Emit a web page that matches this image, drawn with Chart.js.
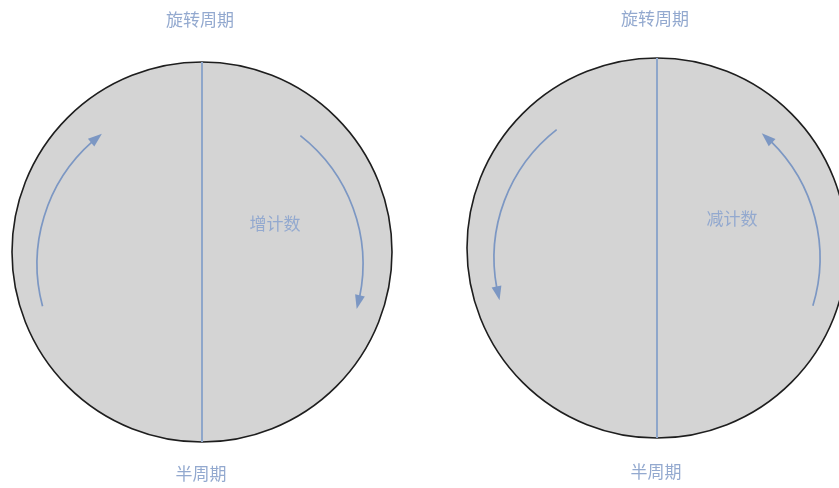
<!DOCTYPE html>
<html lang="zh">
<head>
  <meta charset="UTF-8">
  <title>旋转周期</title>
  <script src="https://cdn.jsdelivr.net/npm/chart.js"></script>
  <style>
    body { margin: 0; background: #fff; }
    #wrap { position: relative; width: 839px; height: 488px; }
  </style>
</head>
<body>
  <div id="wrap"><canvas id="diagram"></canvas></div>

  <script>
    // circles (center, radius in chart units = px)
    const circleX = [202, 657];
    const circleY = [252, 248];
    const circleR = [190, 190];

    // vertical dividers: x, top y, bottom y
    const dividerX = [202, 657];
    const dividerTop = [62, 58];
    const dividerBottom = [442, 438];

    // curved arrows: arc center, radius, start / end angle (deg, canvas y-down)
    const arrowCx = [200, 200, 657, 657];
    const arrowCy = [264, 264, 258, 258];
    const arrowR = [163, 163, 163, 163];
    const arrowFrom = [165, -52, 232, 17];
    const arrowTo = [233, 16, 165, -50];

    // text labels
    const labelText = ['旋转周期', '旋转周期', '半周期', '半周期', '增计数', '减计数'];
    const labelX = [200, 655, 201, 656, 275, 732];
    const labelY = [20, 19, 474, 472, 224, 219];

    const lineColor = '#8ea6ca';
    const arrowColor = '#7c97c3';
    const textColor = '#93a9cf';

    const dividerSets = dividerX.map((x, i) => ({
      type: 'line',
      data: [{ x: x, y: dividerTop[i] }, { x: x, y: dividerBottom[i] }],
      borderColor: lineColor,
      borderWidth: 2,
      pointRadius: 0,
      order: 0
    }));

    const shapes = {
      id: 'shapes',
      beforeDatasetsDraw(chart) {
        const ctx = chart.ctx;
        const xs = chart.scales.x, ys = chart.scales.y;
        const px = (v) => xs.getPixelForValue(v);
        const py = (v) => ys.getPixelForValue(v);
        const pr = (r) => Math.abs(xs.getPixelForValue(r) - xs.getPixelForValue(0));
        ctx.save();
        circleX.forEach((cx, i) => {
          ctx.beginPath();
          ctx.arc(px(cx), py(circleY[i]), pr(circleR[i]), 0, Math.PI * 2);
          ctx.fillStyle = '#d4d4d4';
          ctx.fill();
          ctx.lineWidth = 1.6;
          ctx.strokeStyle = '#1e1e1e';
          ctx.stroke();
        });
        ctx.restore();
      },
      afterDatasetsDraw(chart) {
        const ctx = chart.ctx;
        const xs = chart.scales.x, ys = chart.scales.y;
        const px = (v) => xs.getPixelForValue(v);
        const py = (v) => ys.getPixelForValue(v);
        const pr = (r) => Math.abs(xs.getPixelForValue(r) - xs.getPixelForValue(0));
        const rad = (d) => d * Math.PI / 180;
        ctx.save();
        arrowCx.forEach((acx, i) => {
          const cx = px(acx), cy = py(arrowCy[i]), r = pr(arrowR[i]);
          const a0 = rad(arrowFrom[i]), a1 = rad(arrowTo[i]);
          const ccw = a1 < a0;
          const sign = ccw ? -1 : 1;
          const headLen = 14, headW = 5;
          const aLine = a1 - sign * (headLen - 2) / r;
          ctx.beginPath();
          ctx.arc(cx, cy, r, a0, aLine, ccw);
          ctx.strokeStyle = arrowColor;
          ctx.lineWidth = 1.7;
          ctx.stroke();
          // arrowhead
          const tx = cx + r * Math.cos(a1), ty = cy + r * Math.sin(a1);
          const aBase = a1 - sign * headLen / r;
          const bx = cx + r * Math.cos(aBase), by = cy + r * Math.sin(aBase);
          const dx = tx - bx, dy = ty - by;
          const len = Math.hypot(dx, dy);
          const nx = -dy / len, ny = dx / len;
          ctx.beginPath();
          ctx.moveTo(tx, ty);
          ctx.lineTo(bx + nx * headW, by + ny * headW);
          ctx.lineTo(bx - nx * headW, by - ny * headW);
          ctx.closePath();
          ctx.fillStyle = arrowColor;
          ctx.fill();
        });
        ctx.fillStyle = textColor;
        ctx.font = '17px "Noto Sans CJK SC"';
        ctx.textAlign = 'center';
        ctx.textBaseline = 'middle';
        labelText.forEach((t, i) => {
          ctx.fillText(t, px(labelX[i]), py(labelY[i]));
        });
        ctx.restore();
      }
    };

    new Chart(document.getElementById('diagram'), {
      type: 'scatter',
      data: { datasets: dividerSets },
      options: {
        responsive: true,
        maintainAspectRatio: false,
        animation: false,
        layout: { padding: 0 },
        plugins: { legend: { display: false }, tooltip: { enabled: false } },
        scales: {
          x: { type: 'linear', min: 0, max: 839, display: false },
          y: { type: 'linear', min: 0, max: 488, reverse: true, display: false }
        }
      },
      plugins: [shapes]
    });
  </script>
</body>
</html>
